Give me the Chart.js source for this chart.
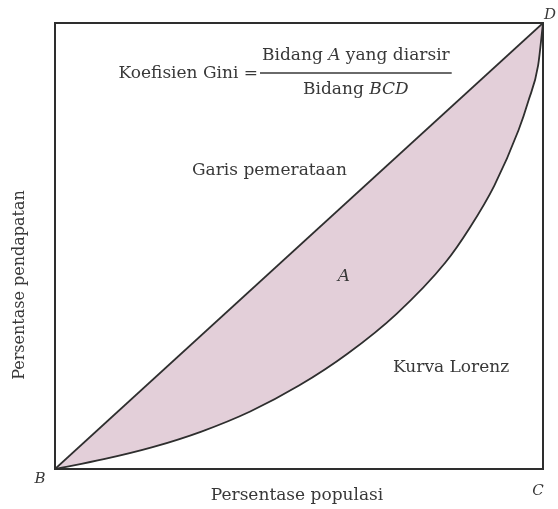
<!DOCTYPE html>
<html>
<head>
<meta charset="utf-8">
<script src="https://cdn.jsdelivr.net/npm/chart.js@4.4.1/dist/chart.umd.min.js"></script>
<style>
  html, body { margin: 0; padding: 0; background: #fff; }
  #wrap { width: 558px; height: 509px; }
</style>
</head>
<body>
<div id="wrap"><canvas id="gini" width="558" height="509"></canvas></div>
<script>
// garis pemerataan (B ke D)
const equalX = [0, 100];
const equalY = [0, 100];

// kurva Lorenz (% populasi vs % pendapatan)
const lorenzX = [0, 10, 20, 30, 40, 50, 60, 70, 80, 85, 90, 95, 97, 99, 100];
const lorenzY = [0, 2.2, 4.9, 8.4, 12.9, 18.7, 25.9, 34.8, 46.3, 54.1, 63.5, 76, 82.5, 90.5, 100];

const INK   = "#383838";
const SHADE = "rgba(226,204,215,0.95)";
const SERIF = "'DejaVu Serif', 'Liberation Serif', serif";
const FS    = 17;

const pts = (xs, ys) => xs.map((x, i) => ({ x, y: ys[i] }));

const labels = {
  id: "labels",
  afterDraw(chart) {
    const { ctx, chartArea: a } = chart;
    const roman  = `${FS}px ${SERIF}`;
    const italic = `italic ${FS}px ${SERIF}`;
    ctx.save();

    // bingkai BCD
    ctx.strokeStyle = "#2e2e2e";
    ctx.lineWidth = 2;
    ctx.strokeRect(a.left, a.top, a.right - a.left, a.bottom - a.top);

    ctx.fillStyle = INK;
    ctx.textBaseline = "middle";

    // rumus koefisien Gini
    ctx.font = roman;
    ctx.textAlign = "right";
    ctx.fillText("Koefisien Gini =", 258, 74);

    ctx.textAlign = "left";
    let x = 262;
    ctx.fillText("Bidang ", x, 56); x += ctx.measureText("Bidang ").width;
    ctx.font = italic;
    ctx.fillText("A", x, 56); x += ctx.measureText("A").width;
    ctx.font = roman;
    ctx.fillText(" yang diarsir", x, 56); x += ctx.measureText(" yang diarsir").width;

    ctx.strokeStyle = INK;
    ctx.lineWidth = 1.3;
    ctx.beginPath();
    ctx.moveTo(260, 73);
    ctx.lineTo(x + 2, 73);
    ctx.stroke();

    ctx.font = roman;
    const bw = ctx.measureText("Bidang ").width;
    ctx.font = italic;
    const cw = ctx.measureText("BCD").width;
    let x2 = (260 + x + 2) / 2 - (bw + cw) / 2;
    ctx.font = roman;
    ctx.fillText("Bidang ", x2, 90);
    ctx.font = italic;
    ctx.fillText("BCD", x2 + bw, 90);

    ctx.font = roman;
    ctx.textAlign = "left";
    ctx.fillText("Garis pemerataan", 192, 171);
    ctx.fillText("Kurva Lorenz", 393, 368);

    ctx.font = italic;
    ctx.textAlign = "center";
    ctx.fillText("A", 344, 277);
    ctx.font = `italic 15px ${SERIF}`;
    ctx.fillText("B", 40, 479);
    ctx.fillText("C", 538, 491);
    ctx.fillText("D", 550, 15);

    ctx.font = roman;
    ctx.fillText("Persentase populasi", 297, 496);

    ctx.translate(20, 285);
    ctx.rotate(-Math.PI / 2);
    ctx.font = `16px ${SERIF}`;
    ctx.fillText("Persentase pendapatan", 0, 0);

    ctx.restore();
  },
};

new Chart(document.getElementById("gini"), {
  type: "line",
  data: {
    datasets: [
      {
        label: "Garis pemerataan",
        data: pts(equalX, equalY),
        borderColor: "#2e2e2e",
        borderWidth: 1.8,
        pointRadius: 0,
        fill: false,
      },
      {
        label: "Kurva Lorenz",
        data: pts(lorenzX, lorenzY),
        borderColor: "#2e2e2e",
        borderWidth: 1.8,
        pointRadius: 0,
        cubicInterpolationMode: "monotone",
        backgroundColor: SHADE,
        fill: 0,
      },
    ],
  },
  options: {
    responsive: false,
    animation: false,
    layout: { padding: { left: 55, top: 23, right: 15, bottom: 40 } },
    plugins: { legend: { display: false }, tooltip: { enabled: false } },
    scales: {
      x: { type: "linear", min: 0, max: 100, display: false },
      y: { type: "linear", min: 0, max: 100, display: false },
    },
  },
  plugins: [labels],
});
</script>
</body>
</html>
